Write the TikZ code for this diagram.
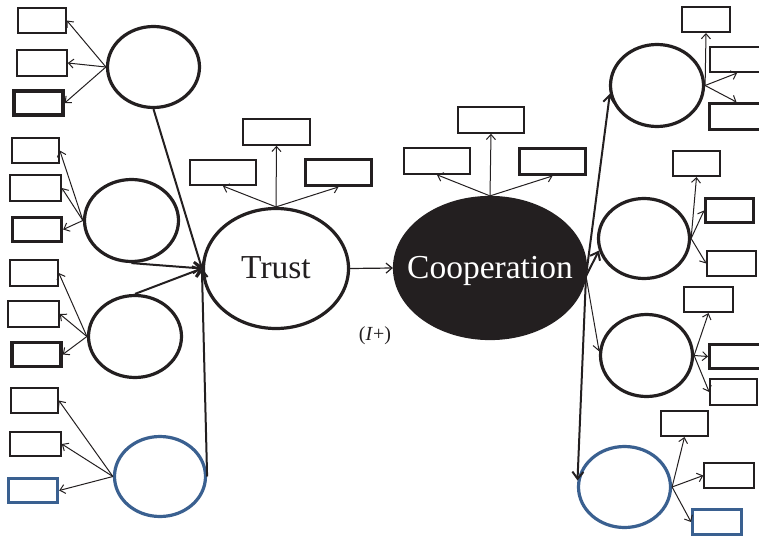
\documentclass[tikz,border=0pt]{standalone}
\usepackage{fontspec}
\setmainfont{Liberation Serif}
\usetikzlibrary{arrows.meta,shapes.geometric}

\definecolor{ink}{HTML}{231F20}
\definecolor{steel}{HTML}{3A6090}

\tikzset{
  box/.style={draw=ink, line width=1.6pt, rectangle, inner sep=0pt,
              minimum width=48pt, minimum height=25.5pt},
  boldbox/.style={box, line width=3.4pt, minimum width=49pt, minimum height=24pt},
  bluebox/.style={boldbox, draw=steel},
  latent/.style={draw=ink, line width=3.2pt, ellipse, inner sep=0pt,
                 minimum width=92pt, minimum height=81pt},
  bluelatent/.style={latent, draw=steel},
  itemarrow/.style={draw=ink, line width=1pt, -{Straight Barb[length=5pt,width=9pt]}},
  semarrow/.style={draw=ink, line width=2pt, -{Straight Barb[length=7pt,width=11pt]}},
  thinsem/.style={draw=ink, line width=1.2pt, -{Straight Barb[length=6pt,width=10pt]}},
  bigtxt/.style={font=\fontsize{33.5}{36}\selectfont, inner sep=0pt},
}

\begin{document}
\begin{tikzpicture}[x=1pt, y=-1pt]
\useasboundingbox (0,0) rectangle (759,540);
\clip (0,0) rectangle (759,540);

% ---- central constructs
\node[latent, minimum width=145pt, minimum height=120pt] (trust) at (276,268.5) {};
\node[latent, fill=ink, minimum width=191pt, minimum height=141pt] (coop) at (490,268) {};
\node[bigtxt, text=ink, anchor=base] (trusttxt) at (276,278) {Trust};
\node[bigtxt, text=white, anchor=base] (cooptxt) at (490,278) {Cooperation};
\node[font=\fontsize{20}{22}\selectfont, text=ink] (effect) at (375,336) {(\textit{I}+)};

% ---- antecedents on the left
\node[latent, minimum width=92pt, minimum height=81pt] (e1) at (153.5,67) {};
\node[latent, minimum width=94pt, minimum height=82pt] (e2) at (131.5,220.5) {};
\node[latent, minimum width=93pt, minimum height=82pt] (e3) at (135,336.5) {};
\node[bluelatent, minimum width=91pt, minimum height=80pt] (e4) at (160,476.5) {};

\node[box] (b1) at (42,20.5) {};
\node[box, minimum width=50pt, minimum height=26pt] (b2) at (42,63) {};
\node[boldbox] (b3) at (38.5,103) {};
\node[box, minimum width=47pt] (b4) at (35.5,150.5) {};
\node[box, minimum width=51pt, minimum height=26pt] (b5) at (35.5,188) {};
\node[boldbox] (b6) at (37,229.5) {};
\node[box, minimum height=26pt] (b7) at (34,273) {};
\node[box, minimum width=51pt, minimum height=26pt] (b8) at (33.5,314) {};
\node[boldbox] (b9) at (36.5,354.5) {};
\node[box, minimum width=47pt] (b10) at (34.5,400.5) {};
\node[box, minimum width=51pt, minimum height=24.5pt] (b11) at (35.5,444) {};
\node[bluebox] (b12) at (33,490.5) {};

% ---- indicators of the central constructs
\node[box, minimum width=67pt, minimum height=26pt] (t1) at (276.5,132) {};
\node[box, minimum width=66pt] (t2) at (223,172.5) {};
\node[boldbox, minimum width=65.5pt, minimum height=25.5pt] (t3) at (338.5,172.5) {};
\node[box, minimum width=66pt, minimum height=26pt] (c1) at (491,120) {};
\node[box, minimum width=66pt, minimum height=26pt] (c2) at (437,161) {};
\node[boldbox, minimum width=65.5pt, minimum height=25.5pt] (c3) at (552.5,161.5) {};

% ---- outcomes on the right
\node[latent, minimum width=93pt, minimum height=82pt] (r1) at (657,85.5) {};
\node[latent, minimum width=91pt, minimum height=80pt] (r2) at (644,238.5) {};
\node[latent, minimum width=92pt, minimum height=82pt] (r3) at (646.5,355.5) {};
\node[bluelatent, minimum width=92pt, minimum height=81pt] (r4) at (624.5,487) {};

\node[box] (r1a) at (706,19.5) {};
\node[box, minimum width=54pt] (r1b) at (737,59.5) {};
\node[boldbox, minimum width=53.5pt, minimum height=25.5pt] (r1c) at (736.5,116.5) {};
\node[box, minimum width=47pt] (r2a) at (696.5,163.5) {};
\node[boldbox, minimum width=47.5pt] (r2b) at (729.5,210.5) {};
\node[box, minimum width=49pt] (r2c) at (731.5,263.5) {};
\node[box, minimum width=49pt] (r3a) at (708.5,299.5) {};
\node[boldbox, minimum width=53.5pt] (r3b) at (736.5,356.5) {};
\node[box, minimum width=47pt, minimum height=26pt] (r3c) at (733.5,392) {};
\node[box, minimum width=47pt] (r4a) at (684.5,423.5) {};
\node[box, minimum width=50pt] (r4b) at (729,475.5) {};
\node[bluebox, minimum width=48.5pt, minimum height=24.5pt] (r4c) at (717,522) {};

% ---- measurement arrows
\foreach \e/\bs in {e1/{b1,b2,b3}, e2/{b4,b5,b6}, e3/{b7,b8,b9}, e4/{b10,b11,b12}}
  \foreach \b in \bs
    \draw[itemarrow] (\e.west) -- (\b.east);

\foreach \b in {t1,t2,t3} \draw[itemarrow] (trust.north) -- (\b.south);
\foreach \b in {c1,c2,c3} \draw[itemarrow] (coop.north) -- (\b.south);

\draw[itemarrow] (r1.east) -- (r1a.south);
\draw[itemarrow] (r1.east) -- (r1b.south);
\draw[itemarrow] (r1.east) -- (r1c.north);
\draw[itemarrow] (r2.east) -- (r2a.south);
\draw[itemarrow] (r2.east) -- (r2b.west);
\draw[itemarrow] (r2.east) -- (r2c.west);
\draw[itemarrow] (r3.east) -- (r3a.south);
\draw[itemarrow] (r3.east) -- (r3b.west);
\draw[itemarrow] (r3.east) -- (r3c.west);
\draw[itemarrow] (r4.east) -- (r4a.south);
\draw[itemarrow] (r4.east) -- (r4b.west);
\draw[itemarrow] (r4.east) -- (r4c.west);

% ---- structural paths
\coordinate (tin) at (trust.west);
\draw[semarrow] (e1.south) -- (tin);
\draw[semarrow] (e2.south) -- (tin);
\draw[semarrow] (e3.north) -- (tin);
\draw[semarrow] (e4.east) -- (tin);

\draw[thinsem] (trust.east) -- (coop.west);

\coordinate (cout) at (586,276);
\draw[semarrow] (cout) -- (r1.190);
\draw[semarrow] (cout) -- (r2.195);
\draw[thinsem, line width=1pt] (cout) -- (r3.175);
\draw[semarrow] (cout) -- (r4.172);
\end{tikzpicture}
\end{document}
